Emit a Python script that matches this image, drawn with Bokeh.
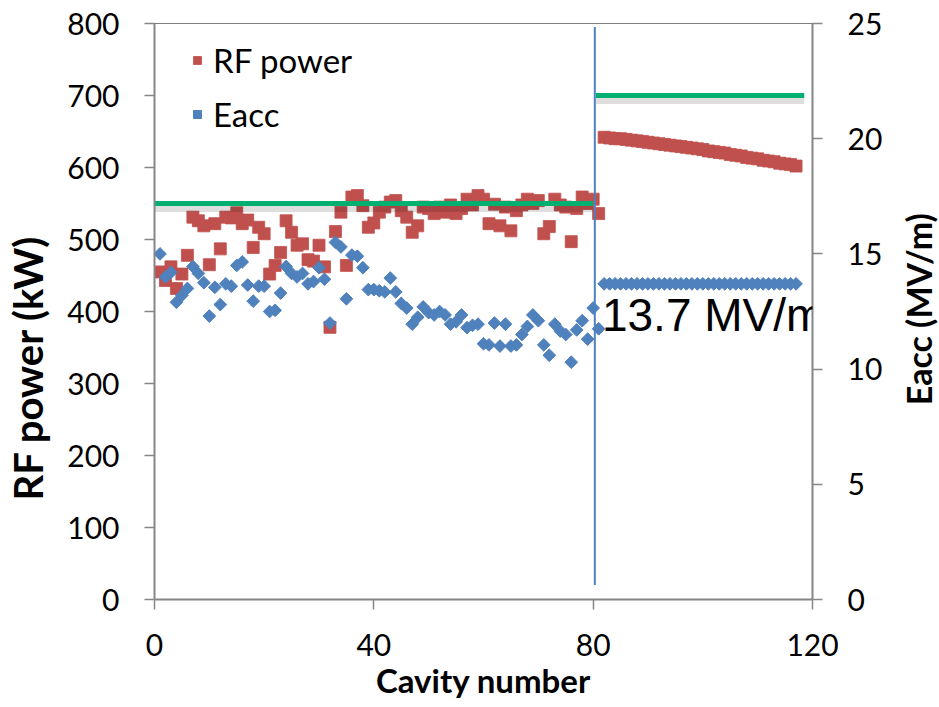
import numpy as np
from bokeh.plotting import figure
from bokeh.models import Range1d, LinearAxis, Legend, LegendItem, Span, Label, FixedTicker
from bokeh.embed import file_html
from bokeh.resources import INLINE

# ---- data ----
cavity_a = list(range(1, 82))
rf_power_a = [455, 443, 462, 432, 452, 478, 531, 526, 519, 465,
              522, 487, 531, 530, 537, 522, 527, 489, 517, 508,
              452, 464, 482, 526, 510, 492, 494, 472, 470, 492,
              462, 378, 511, 538, 464, 559, 561, 547, 517, 523,
              538, 545, 552, 554, 540, 531, 510, 519, 545, 543,
              536, 545, 538, 548, 536, 543, 556, 548, 561, 556,
              522, 549, 519, 545, 512, 540, 548, 556, 550, 554,
              508, 518, 556, 548, 545, 497, 543, 559, 550, 556,
              536]
eacc_a = [15.0, 14.0, 14.2, 12.9, 13.2, 13.5, 14.45, 14.15, 13.75, 12.3,
          13.55, 12.8, 13.7, 13.6, 14.5, 14.65, 13.65, 12.95, 13.6, 13.6,
          12.5, 12.55, 13.3, 14.45, 14.15, 14.0, 14.15, 13.7, 13.8, 14.4,
          13.9, 12.0, 15.5, 15.3, 13.05, 14.95, 14.9, 14.4, 13.45, 13.45,
          13.4, 13.35, 13.95, 13.35, 12.85, 12.65, 11.95, 12.25, 12.7, 12.45,
          12.35, 12.5, 12.35, 11.95, 12.05, 12.35, 11.8, 11.9, 11.95, 11.1,
          11.05, 12.0, 11.0, 11.95, 11.0, 11.05, 11.5, 11.85, 12.35, 12.1,
          11.05, 10.6, 11.95, 11.65, 11.5, 10.3, 11.7, 12.1, 11.3, 12.65,
          11.75]
cavity_b = list(range(82, 118))
rf_power_b = [642, 641, 640, 640, 639, 638, 637, 636, 635, 634,
              633, 632, 631, 630, 629, 628, 627, 626, 625, 623,
              622, 621, 620, 618, 617, 616, 614, 613, 612, 610,
              609, 608, 606, 605, 604, 602]
eacc_b = [13.7, 13.7, 13.7, 13.7, 13.7, 13.7, 13.7, 13.7, 13.7, 13.7,
          13.7, 13.7, 13.7, 13.7, 13.7, 13.7, 13.7, 13.7, 13.7, 13.7,
          13.7, 13.7, 13.7, 13.7, 13.7, 13.7, 13.7, 13.7, 13.7, 13.7,
          13.7, 13.7, 13.7, 13.7, 13.7, 13.7]

limit_x_a = [-1.5, 80.0]
limit_p_a = [550, 550]
limit_x_b = [80.5, 118.5]
limit_p_b = [700, 700]
divider_x = [80.3, 80.3]
divider_p = [20, 795]
note_text = "13.7 MV/m"

x_ticks = [0, 40, 80, 120]
p_ticks = [0, 100, 200, 300, 400, 500, 600, 700, 800]
e_ticks = [0, 5, 10, 15, 20, 25]

x_title = "Cavity number"
left_title = "RF power (kW)"
right_title = "Eacc (MV/m)"
# centres of the two vertical titles (the left one sits below the middle)
left_title_center = 322     # kW, left scale
right_title_center = 12.6   # MV/m, right scale

RED = "#C0504D"
BLUE = "#4F81BD"
GREEN = "#00B070"
AXIS = "#868686"

cavity = cavity_a + cavity_b
rf_power = rf_power_a + rf_power_b
eacc = eacc_a + eacc_b

p = figure(width=939, height=707, x_range=Range1d(0, 120), y_range=Range1d(0, 800),
           output_backend="svg", toolbar_location=None,
           min_border_left=154, min_border_right=127, min_border_top=23, min_border_bottom=108)
p.extra_y_ranges = {"eacc": Range1d(0, 25)}
right_axis = LinearAxis(y_range_name="eacc")
p.add_layout(right_axis, "right")

p.grid.visible = False
p.outline_line_color = None
p.background_fill_color = "white"
p.border_fill_color = "white"

for ax in p.axis:
    ax.axis_line_color = AXIS
    ax.axis_line_width = 2
    ax.major_tick_line_color = AXIS
    ax.major_tick_line_width = 1.5
    ax.major_tick_out = 10
    ax.major_tick_in = 0
    ax.minor_tick_line_color = None
    ax.major_label_text_font = "Lato"
    ax.major_label_text_font_size = "30px"
    ax.major_label_text_color = "black"
    ax.major_label_standoff = 25
    ax.axis_label_text_font = "Lato"
    ax.axis_label_text_font_style = "bold"
    ax.axis_label_text_font_size = "33px"
    ax.axis_label_text_color = "black"

p.xaxis.ticker = FixedTicker(ticks=x_ticks)
p.xaxis.axis_label = x_title
p.xaxis.axis_label_standoff = 1
p.xaxis.major_label_standoff = 24
p.yaxis[0].ticker = FixedTicker(ticks=p_ticks)
right_axis.ticker = FixedTicker(ticks=e_ticks)

# left title: an extra axis whose single tick label is the (off-centre) title
title_ax = LinearAxis(ticker=FixedTicker(ticks=[left_title_center]),
                      major_label_overrides={left_title_center: left_title})
title_ax.axis_line_color = None
title_ax.major_tick_line_color = None
title_ax.major_tick_out = 0
title_ax.major_tick_in = 0
title_ax.minor_tick_line_color = None
title_ax.major_label_orientation = "parallel"
title_ax.major_label_standoff = 12
title_ax.major_label_text_font = "Lato"
title_ax.major_label_text_font_style = "bold"
title_ax.major_label_text_font_size = "40px"
title_ax.major_label_text_color = "black"
p.add_layout(title_ax, "left")

# right title: a rotated label kept in the right side panel so it is not clipped
p.add_layout(Label(x=139.3, y=right_title_center, y_range_name="eacc", text=right_title,
                   angle=np.pi / 2, text_font="Lato", text_font_style="bold",
                   text_font_size="34px", text_color="black", text_align="center",
                   text_baseline="middle"), "right")

top_line = Span(location=800, dimension="width", line_color="black", line_width=1)
p.add_layout(top_line)

r_red = p.scatter(cavity, rf_power, marker="square", size=12, fill_color=RED, line_color=RED,
                  line_alpha=0.8)
r_blue = p.scatter(cavity, eacc, marker="square", angle=np.pi / 4, size=9, fill_color=BLUE,
                   line_color=BLUE, y_range_name="eacc")

# shadow and design-limit lines
p.line(limit_x_a, list(np.array(limit_p_a) - 7), line_color="black", line_alpha=0.13, line_width=7)
p.line(limit_x_b, list(np.array(limit_p_b) - 7), line_color="black", line_alpha=0.13, line_width=7)
p.line(limit_x_a, limit_p_a, line_color=GREEN, line_width=5)
p.line(limit_x_b, limit_p_b, line_color=GREEN, line_width=5)

p.line(divider_x, divider_p, line_color=BLUE, line_width=2)

p.add_layout(Label(x=81.6, y=395, text=note_text, text_font="Liberation Sans",
                   text_font_size="46px", text_color="black", text_baseline="alphabetic",
                   level="overlay"))

legend = Legend(items=[LegendItem(label="RF power", renderers=[r_red]),
                       LegendItem(label="Eacc", renderers=[r_blue])],
                location=(33, 465), padding=0, margin=0, spacing=14,
                glyph_width=20, glyph_height=30, label_height=30, label_standoff=6,
                label_text_font="Lato", label_text_font_size="33px", label_text_color="black",
                border_line_color=None, background_fill_alpha=0)
p.add_layout(legend)

open("out.html", "w").write(file_html(p, INLINE))
